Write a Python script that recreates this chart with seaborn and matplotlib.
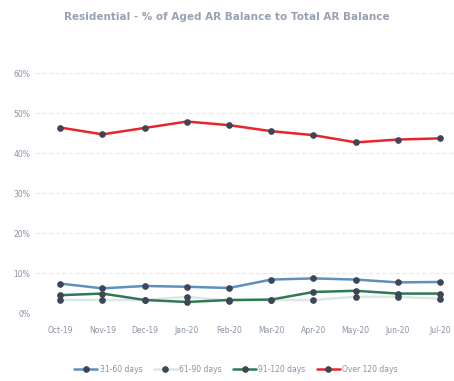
import matplotlib
matplotlib.use("Agg")
import matplotlib.pyplot as plt
import seaborn as sns
import pandas as pd
from matplotlib.ticker import PercentFormatter

months = ["Oct-19", "Nov-19", "Dec-19", "Jan-20", "Feb-20", "Mar-20",
          "Apr-20", "May-20", "Jun-20", "Jul-20"]
days_31_60 = [7.4, 6.2, 6.8, 6.6, 6.3, 8.4, 8.7, 8.4, 7.7, 7.8]
days_61_90 = [3.3, 3.3, 3.3, 4.1, 3.1, 3.3, 3.3, 4.1, 4.1, 3.6]
days_91_120 = [4.5, 4.9, 3.3, 2.8, 3.3, 3.4, 5.3, 5.6, 4.9, 4.9]
over_120 = [46.4, 44.7, 46.3, 47.9, 47.0, 45.5, 44.5, 42.7, 43.4, 43.7]

series = {
    "31-60 days": days_31_60,
    "61-90 days": days_61_90,
    "91-120 days": days_91_120,
    "Over 120 days": over_120,
}
colors = {
    "31-60 days": "#5d90bf",
    "61-90 days": "#dfe6e6",
    "91-120 days": "#2f7a55",
    "Over 120 days": "#e8252a",
}

df = pd.DataFrame(
    [(m, name, v) for name, vals in series.items() for m, v in zip(months, vals)],
    columns=["month", "bucket", "pct"],
)
df["x"] = df["month"].map({m: i for i, m in enumerate(months)})

sns.set_theme(style="white")
plt.rcParams["font.family"] = ["DejaVu Sans"]

fig = plt.figure(figsize=(4.54, 3.81), dpi=100)
ax = fig.add_axes([0.077, 0.178, 0.923, 0.63])

sns.lineplot(
    data=df, x="x", y="pct", hue="bucket", palette=colors,
    marker="o", markersize=4, linewidth=1.8, ax=ax, legend=True,
)
for line in ax.lines:
    line.set_markerfacecolor("#3c4656")
    line.set_markeredgecolor("#3c4656")

ax.set_xlim(-0.6, 9.33)
ax.set_ylim(0, 60)
ax.set_yticks(range(0, 61, 10))
ax.yaxis.set_major_formatter(PercentFormatter(decimals=0))
ax.set_xticks(range(len(months)))
ax.set_xticklabels(months)
ax.tick_params(axis="both", labelsize=5.5, colors="#8a93a3", length=0)
ax.tick_params(axis="x", pad=9)
ax.set_xlabel("")
ax.set_ylabel("")
ax.grid(axis="y", color="#e6e9ec", linewidth=0.8, linestyle=(0, (4, 2)))
for s in ax.spines.values():
    s.set_visible(False)

leg = ax.get_legend()
handles, labels = ax.get_legend_handles_labels()
leg.remove()
fig.legend(handles, labels, loc="center", bbox_to_anchor=(0.52, 0.03),
           ncol=4, frameon=False, fontsize=5.5, labelcolor="#8a93a3",
           handlelength=3, columnspacing=1.5, handletextpad=0.3)

fig.text(0.5, 0.955, "Residential - % of Aged AR Balance to Total AR Balance",
         ha="center", va="center", fontsize=7.5, fontweight="bold", color="#97a1b2")

fig.savefig("out.png", dpi=100)
